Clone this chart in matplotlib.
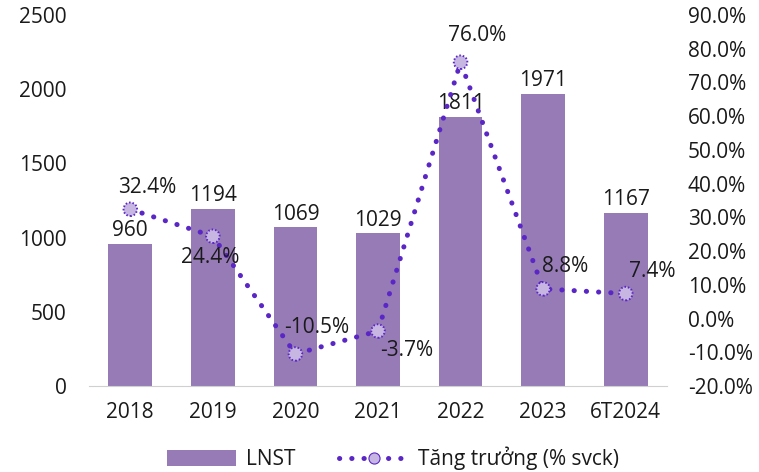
import matplotlib
matplotlib.use("Agg")
import matplotlib.pyplot as plt
from matplotlib.lines import Line2D
from matplotlib.patches import Patch

categories = ["2018", "2019", "2020", "2021", "2022", "2023", "6T2024"]
lnst = [960, 1194, 1069, 1029, 1811, 1971, 1167]
growth = [32.4, 24.4, -10.5, -3.7, 76.0, 8.8, 7.4]
growth_labels = ["32.4%", "24.4%", "-10.5%", "-3.7%", "76.0%", "8.8%", "7.4%"]
left_ticks = [0, 500, 1000, 1500, 2000, 2500]
right_ticks = [-20, -10, 0, 10, 20, 30, 40, 50, 60, 70, 80, 90]

plt.rcParams['font.family'] = ['Open Sans', 'DejaVu Sans']
FS = 15
BAR = "#967BB6"
LINE = "#5A27C6"
MFACE = "#C8B6E2"
TXT = "#1a1a1a"
LW = 3.6
DOTS = (0, (0.05, 2.4))

fig = plt.figure(figsize=(7.59, 4.72), dpi=100)
ax = fig.add_axes([89/759, 1-386/472, (667-89)/759, (386-15)/472])
x = list(range(len(categories)))
bars = ax.bar(x, lnst, width=0.53, color=BAR, zorder=2)
ax.set_xlim(-0.5, len(categories)-0.5)
ax.set_ylim(0, 2500)
ax.set_yticks(left_ticks)
ax.set_xticks(x)
ax.set_xticklabels(categories)
for s in ["top", "right", "left"]:
    ax.spines[s].set_visible(False)
ax.spines["bottom"].set_color("#d0d0d0")
ax.tick_params(axis="y", length=0, pad=16, labelsize=FS, labelcolor=TXT)
ax.tick_params(axis="x", length=0, pad=11.5, labelsize=FS, labelcolor=TXT)

for xi, v in zip(x, lnst):
    ax.annotate(f"{v}", (xi, v), xytext=(0, 2), textcoords="offset points",
                ha="center", va="bottom", fontsize=FS, color=TXT, zorder=5)

ax2 = ax.twinx()
ax2.set_ylim(-20, 90)
ax2.set_yticks(right_ticks)
ax2.set_yticklabels([f"{t:.1f}%" for t in right_ticks])
for s in ["top", "right", "left", "bottom"]:
    ax2.spines[s].set_visible(False)
ax2.tick_params(axis="y", length=0, pad=15, labelsize=FS, labelcolor=TXT)

ln, = ax2.plot(x, growth, color=LINE, linewidth=LW, linestyle=DOTS,
               dash_capstyle="round", zorder=3)
sc = ax2.scatter(x, growth, s=95, facecolor=MFACE, edgecolor=LINE,
                 linewidths=1.4, linestyle=(0, (0.8, 1.0)), zorder=4)

offsets = [(12, 16), (-2, -15), (15, 19), (21, -14), (12, 19), (16, 16), (19, 16)]
for xi, g, lab, off in zip(x, growth, growth_labels, offsets):
    ax2.annotate(lab, (xi, g), xytext=off, textcoords="offset points",
                 ha="center", va="center", fontsize=FS, color=TXT, zorder=6)

h_bar = Patch(facecolor=BAR)
h_line = Line2D([], [], color=LINE, linewidth=LW, linestyle=DOTS,
                dash_capstyle="round")
h_mark = Line2D([], [], linestyle="none", marker="o", markersize=8,
                markerfacecolor=MFACE, markeredgecolor=LINE, markeredgewidth=0.8)
fig.legend([h_bar, (h_line, h_mark)], ["LNST", "Tăng trưởng (% svck)"],
           loc="lower center", bbox_to_anchor=(0.518, -0.036), ncol=2, frameon=False,
           fontsize=FS, handlelength=3.3, handleheight=0.8, columnspacing=2.1,
           handletextpad=0.5, numpoints=1, labelcolor=TXT)

fig.savefig("out.png", dpi=100)
